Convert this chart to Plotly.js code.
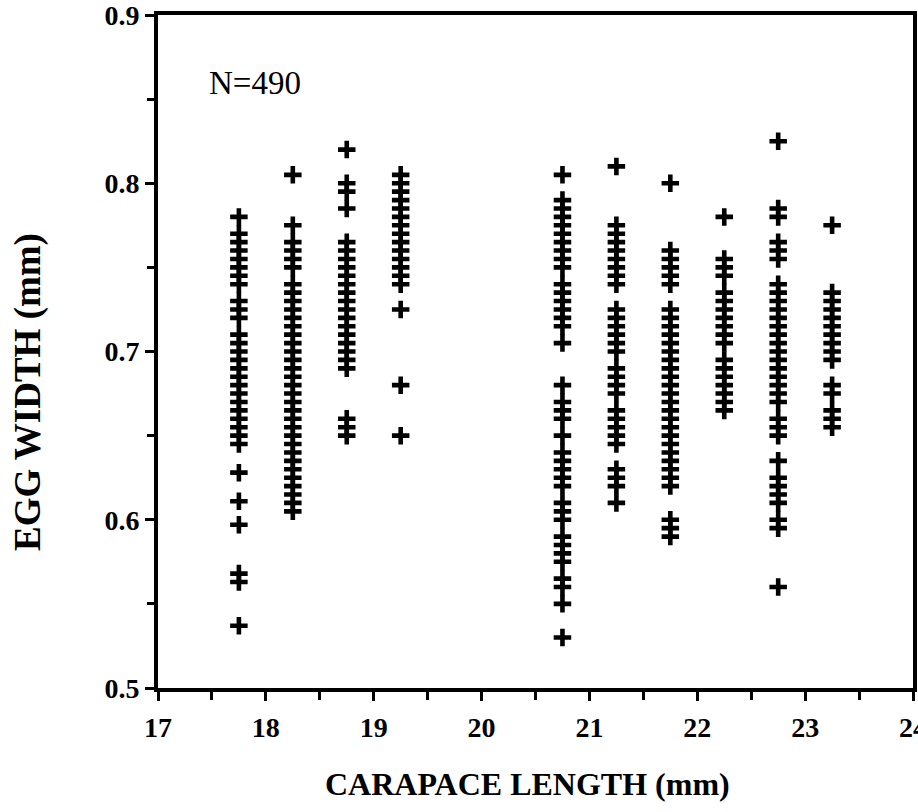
<!DOCTYPE html>
<html>
<head>
<meta charset="utf-8">
<script src="https://cdn.plot.ly/plotly-3.0.1.min.js"></script>
<style>
  html, body { margin: 0; padding: 0; background: #ffffff; }
  #chart { width: 918px; height: 812px; }
</style>
</head>
<body>
<div id="chart"></div>
<script>
// Carapace length classes (mm), midpoints of half-millimetre bins
const carapaceBins = [17.75, 18.25, 18.75, 19.25, 20.75, 21.25, 21.75, 22.25, 22.75, 23.25];

// Egg widths (mm) recorded in each carapace class
const w1775 = [0.78, 0.77, 0.765, 0.76, 0.755, 0.75, 0.745, 0.74, 0.73, 0.725, 0.72, 0.71, 0.705, 0.70,
               0.695, 0.69, 0.685, 0.68, 0.675, 0.67, 0.665, 0.66, 0.655, 0.65, 0.645,
               0.628, 0.611, 0.597, 0.568, 0.563, 0.537];
const w1825 = [0.805, 0.775, 0.765, 0.76, 0.755, 0.75, 0.74, 0.735, 0.73, 0.725, 0.72, 0.715, 0.71, 0.705,
               0.70, 0.695, 0.69, 0.685, 0.68, 0.675, 0.67, 0.665, 0.66, 0.655, 0.65, 0.645, 0.64,
               0.635, 0.63, 0.625, 0.62, 0.615, 0.61, 0.605];
const w1875 = [0.82, 0.80, 0.795, 0.785, 0.765, 0.76, 0.755, 0.75, 0.745, 0.74, 0.735, 0.73, 0.725,
               0.72, 0.715, 0.71, 0.705, 0.70, 0.695, 0.69, 0.66, 0.655, 0.65];
const w1925 = [0.805, 0.80, 0.795, 0.79, 0.785, 0.78, 0.775, 0.77, 0.765, 0.76, 0.755, 0.75, 0.745, 0.74,
               0.725, 0.68, 0.65];
const w2075 = [0.805, 0.79, 0.785, 0.78, 0.775, 0.77, 0.765, 0.76, 0.755, 0.75, 0.74, 0.735, 0.73, 0.725,
               0.72, 0.715, 0.705, 0.68, 0.67, 0.665, 0.66, 0.65, 0.64, 0.635, 0.63, 0.625, 0.62,
               0.61, 0.605, 0.60, 0.59, 0.585, 0.58, 0.575, 0.565, 0.56, 0.55, 0.53];
const w2125 = [0.81, 0.775, 0.77, 0.765, 0.76, 0.755, 0.75, 0.745, 0.74, 0.725, 0.72, 0.715, 0.71, 0.705,
               0.70, 0.69, 0.685, 0.68, 0.675, 0.665, 0.66, 0.655, 0.65, 0.645, 0.63, 0.625, 0.62, 0.61];
const w2175 = [0.80, 0.76, 0.755, 0.75, 0.745, 0.74, 0.725, 0.72, 0.715, 0.71, 0.705, 0.70, 0.695, 0.69,
               0.685, 0.68, 0.675, 0.67, 0.665, 0.66, 0.655, 0.65, 0.645, 0.64, 0.635, 0.63, 0.625,
               0.62, 0.60, 0.595, 0.59];
const w2225 = [0.78, 0.755, 0.75, 0.745, 0.735, 0.73, 0.725, 0.72, 0.715, 0.71, 0.705, 0.695, 0.69,
               0.685, 0.68, 0.675, 0.67, 0.665];
const w2275 = [0.825, 0.785, 0.78, 0.765, 0.76, 0.755, 0.74, 0.735, 0.73, 0.725, 0.72, 0.715, 0.71,
               0.705, 0.70, 0.695, 0.69, 0.685, 0.68, 0.675, 0.67, 0.66, 0.655, 0.65, 0.635, 0.625,
               0.62, 0.615, 0.61, 0.60, 0.595, 0.56];
const w2325 = [0.775, 0.735, 0.73, 0.725, 0.72, 0.715, 0.71, 0.705, 0.70, 0.695, 0.68, 0.675, 0.665,
               0.66, 0.655];

const eggWidthByBin = [w1775, w1825, w1875, w1925, w2075, w2125, w2175, w2225, w2275, w2325];

// Sample size shown inside the plot
const sampleLabel = 'N=490';

// Axis tick values and labels
const xTicks = [17, 18, 19, 20, 21, 22, 23, 24];
const xTickText = ['17', '18', '19', '20', '21', '22', '23', '24'];
const yTicks = [0.5, 0.6, 0.7, 0.8, 0.9];
const yTickText = ['0.5', '0.6', '0.7', '0.8', '0.9'];

// Flatten the per-class lists into point coordinates
const xs = [];
const ys = [];
carapaceBins.forEach((cl, i) => {
  eggWidthByBin[i].forEach(w => { xs.push(cl); ys.push(w); });
});

const serif = 'Liberation Serif, Times New Roman, serif';
const bold = s => '<b>' + s + '</b>';
const axisLine = { showline: true, linecolor: '#000', linewidth: 4, mirror: true, showgrid: false, zeroline: false };

const trace = {
  type: 'scatter',
  mode: 'markers',
  x: xs,
  y: ys,
  marker: {
    symbol: 'cross-thin',
    size: 12.5,
    color: '#000',
    line: { color: '#000', width: 4.6 }
  },
  hoverinfo: 'x+y'
};

// plot area: left 158, right 913, top 15, bottom 688 (px)
const plotTop = 15, plotBottom = 688;
const pyToPaper = py => (plotBottom - py) / (plotBottom - plotTop);

const layout = {
  width: 918,
  height: 812,
  margin: { l: 158, r: 5, t: plotTop, b: 812 - plotBottom, pad: 0 },
  paper_bgcolor: '#fff',
  plot_bgcolor: '#fff',
  showlegend: false,
  xaxis: Object.assign({}, axisLine, {
    range: [17, 24],
    tickmode: 'array',
    tickvals: xTicks,
    ticktext: xTickText.map(bold),
    ticks: 'outside', ticklen: 9, tickwidth: 3, tickcolor: '#000',
    minor: { dtick: 0.5, tick0: 17, ticks: 'outside', ticklen: 8, tickwidth: 3, tickcolor: '#000' },
    ticklabelstandoff: 2,
    ticklabeloverflow: 'allow',
    tickfont: { family: serif, size: 28, color: '#000' }
  }),
  yaxis: Object.assign({}, axisLine, {
    range: [0.5, 0.9],
    tickmode: 'array',
    tickvals: yTicks,
    ticktext: yTickText.map(bold),
    ticks: 'outside', ticklen: 9, tickwidth: 3, tickcolor: '#000',
    minor: { dtick: 0.05, tick0: 0.5, ticks: 'outside', ticklen: 7, tickwidth: 3, tickcolor: '#000' },
    ticklabelstandoff: 0,
    ticklabeloverflow: 'allow',
    tickfont: { family: serif, size: 28, color: '#000' }
  }),
  annotations: [
    {
      text: sampleLabel, xref: 'x', yref: 'paper', x: 17.9, y: pyToPaper(83),
      xanchor: 'center', yanchor: 'middle', showarrow: false,
      font: { family: serif, size: 33, color: '#000' }
    },
    {
      text: bold('CARAPACE LENGTH (mm)'), xref: 'paper', yref: 'paper', x: 0.49, y: pyToPaper(784),
      xanchor: 'center', yanchor: 'middle', showarrow: false,
      font: { family: serif, size: 32, color: '#000' }
    },
    {
      text: bold('EGG WIDTH (mm)'), xref: 'paper', yref: 'paper', textangle: -90,
      x: (28 - 158) / 755, y: pyToPaper(392),
      xanchor: 'center', yanchor: 'middle', showarrow: false,
      font: { family: serif, size: 37, color: '#000' }
    }
  ]
};

Plotly.newPlot('chart', [trace], layout, { displayModeBar: false, staticPlot: true });
</script>
</body>
</html>
